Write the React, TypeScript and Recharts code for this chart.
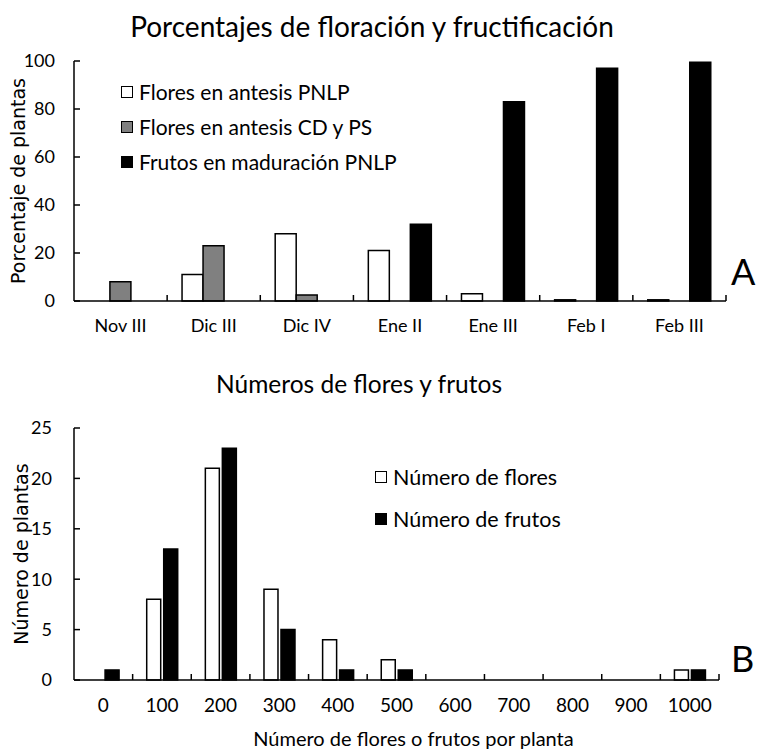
import React from 'react';
import { BarChart, Bar, XAxis, YAxis, Legend } from 'recharts';

// Panel A: porcentaje de plantas por periodo
const periodos = ['Nov III', 'Dic III', 'Dic IV', 'Ene II', 'Ene III', 'Feb I', 'Feb III'];
const floresPNLP = [0, 11, 28, 21, 3, 0.5, 0.5];
const floresCDPS = [8, 23, 2.5, 0, 0, 0, 0];
const frutosPNLP = [0, 0, 0, 32, 83, 97, 99.5];
const ticksA = [0, 20, 40, 60, 80, 100];

// Panel B: número de plantas por clase
const clases = ['0', '100', '200', '300', '400', '500', '600', '700', '800', '900', '1000'];
const numFlores = [0, 8, 21, 9, 4, 2, 0, 0, 0, 0, 1];
const numFrutos = [1, 13, 23, 5, 1, 1, 0, 0, 0, 0, 1];
const ticksB = [0, 5, 10, 15, 20, 25];

const dataA = periodos.map((p, i) => ({
  name: p,
  flores: floresPNLP[i],
  floresCD: floresCDPS[i],
  frutos: frutosPNLP[i],
}));

const dataB = clases.map((c, i) => ({
  name: c,
  flores: numFlores[i],
  frutos: numFrutos[i],
}));

const legendA = [
  { name: 'Flores en antesis PNLP', color: '#fff' },
  { name: 'Flores en antesis CD y PS', color: '#808080' },
  { name: 'Frutos en maduración PNLP', color: '#000' },
];
const legendB = [
  { name: 'Número de flores', color: '#fff' },
  { name: 'Número de frutos', color: '#000' },
];

const FONT = 'Lato, "Open Sans", sans-serif';
const YFONT = '"DejaVu Sans", sans-serif';
const W = 758;
const AXIS_X = 74; // ancho del eje Y = borde izquierdo del área de trazado

// tick con marca en el borde derecho de cada categoría
const bandTick = (band: number, labelDy: number, fontSize: number) => (props: any) => {
  const { x, y, payload } = props;
  const half = band / 2;
  return (
    <g>
      <line x1={x + half} y1={y} x2={x + half} y2={y - 6} stroke="#000" strokeWidth={1.5} />
      <text x={x} y={y + labelDy} textAnchor="middle" fontFamily={FONT} fontSize={fontSize} fill="#000">
        {payload.value}
      </text>
    </g>
  );
};

// marca hacia dentro y número separado del eje
const valueTick = (gap: number) => (props: any) => {
  const { y, payload } = props;
  return (
    <g>
      <line x1={AXIS_X} y1={y} x2={AXIS_X + 6} y2={y} stroke="#000" strokeWidth={1.5} />
      <text x={AXIS_X - gap} y={y} dy="0.35em" textAnchor="end" fontFamily={FONT} fontSize={18} fill="#000">
        {payload.value}
      </text>
    </g>
  );
};

// el orden por defecto de la leyenda es alfabético, se usa el orden de las series
const legendContent = (items: { name: string; color: string }[], fontSize: number, rowH: number) => () => (
  <div style={{ fontFamily: FONT, fontSize, color: '#000' }}>
    {items.map((e) => (
      <div key={e.name} style={{ display: 'flex', alignItems: 'center', height: rowH, whiteSpace: 'nowrap' }}>
        <span
          style={{
            display: 'inline-block',
            width: 10,
            height: 10,
            background: e.color,
            border: '1.5px solid #000',
            marginRight: 6,
          }}
        />
        {e.name}
      </div>
    ))}
  </div>
);

export default function App() {
  const bandA = (W - AXIS_X - 32) / periodos.length;
  const bandB = (W - AXIS_X - 39) / clases.length;

  return (
    <div style={{ position: 'absolute', left: 0, top: 0, width: W, height: 751, background: '#fff' }}>
      <div style={{ position: 'absolute', left: 0, top: 9, width: 744, textAlign: 'center', fontFamily: FONT, fontSize: 28, lineHeight: '34px' }}>
        Porcentajes de floración y fructificación
      </div>
      <div style={{ position: 'absolute', left: 731, top: 251, fontFamily: FONT, fontSize: 36, lineHeight: '40px' }}>A</div>

      <div style={{ position: 'absolute', left: 0, top: 0 }}>
        <BarChart width={W} height={345} data={dataA} margin={{ top: 61, right: 32, left: 0, bottom: 4 }} barGap={0} barCategoryGap="16%">
          <XAxis
            dataKey="name"
            height={40}
            tickSize={0}
            tickMargin={0}
            tickLine={false}
            axisLine={{ stroke: '#000', strokeWidth: 1.5 }}
            tick={bandTick(bandA, 31, 18)}
            interval={0}
          />
          <YAxis
            width={AXIS_X}
            domain={[0, 100]}
            ticks={ticksA}
            tickSize={0}
            tickMargin={0}
            tickLine={false}
            axisLine={{ stroke: '#000', strokeWidth: 1.5 }}
            tick={valueTick(19)}
            label={{
              value: 'Porcentaje de plantas',
              angle: -90,
              position: 'insideLeft',
              offset: 0,
              dx: 18,
              style: { textAnchor: 'middle', fontFamily: YFONT, fontSize: 19, fill: '#000' },
            }}
          />
          <Legend
            layout="horizontal"
            verticalAlign="middle"
            align="center"
            wrapperStyle={{ left: 121, top: 74, width: 340 }}
            content={legendContent(legendA, 21, 35)}
          />
          <Bar dataKey="flores" name="Flores en antesis PNLP" fill="#fff" stroke="#000" strokeWidth={1.5} isAnimationActive={false} />
          <Bar dataKey="floresCD" name="Flores en antesis CD y PS" fill="#808080" stroke="#000" strokeWidth={1.5} isAnimationActive={false} />
          <Bar dataKey="frutos" name="Frutos en maduración PNLP" fill="#000" stroke="#000" strokeWidth={1.5} isAnimationActive={false} />
        </BarChart>
      </div>

      <div style={{ position: 'absolute', left: 0, top: 369, width: 718, textAlign: 'center', fontFamily: FONT, fontSize: 24.5, lineHeight: '30px' }}>
        Números de flores y frutos
      </div>
      <div style={{ position: 'absolute', left: 731, top: 638, fontFamily: FONT, fontSize: 36, lineHeight: '40px' }}>B</div>

      <div style={{ position: 'absolute', left: 0, top: 355 }}>
        <BarChart width={W} height={396} data={dataB} margin={{ top: 73, right: 39, left: 0, bottom: 5 }} barGap={3} barCategoryGap="24%">
          <XAxis
            dataKey="name"
            height={66}
            tickSize={0}
            tickMargin={0}
            tickLine={false}
            axisLine={{ stroke: '#000', strokeWidth: 1.5 }}
            tick={bandTick(bandB, 32, 19)}
            interval={0}
            label={{
              value: 'Número de flores o frutos por planta',
              position: 'insideBottom',
              offset: 0,
              dx: 17,
              style: { fontFamily: FONT, fontSize: 20, fill: '#000' },
            }}
          />
          <YAxis
            width={AXIS_X}
            domain={[0, 25]}
            ticks={ticksB}
            tickSize={0}
            tickMargin={0}
            tickLine={false}
            axisLine={{ stroke: '#000', strokeWidth: 1.5 }}
            tick={valueTick(22)}
            label={{
              value: 'Número de plantas',
              angle: -90,
              position: 'insideLeft',
              offset: 0,
              dx: 21,
              style: { textAnchor: 'middle', fontFamily: YFONT, fontSize: 19, fill: '#000' },
            }}
          />
          <Legend
            layout="horizontal"
            verticalAlign="middle"
            align="center"
            wrapperStyle={{ left: 375, top: 101, width: 260 }}
            content={legendContent(legendB, 21.5, 42)}
          />
          <Bar dataKey="flores" name="Número de flores" fill="#fff" stroke="#000" strokeWidth={1.5} isAnimationActive={false} />
          <Bar dataKey="frutos" name="Número de frutos" fill="#000" stroke="#000" strokeWidth={1.5} isAnimationActive={false} />
        </BarChart>
      </div>
    </div>
  );
}
